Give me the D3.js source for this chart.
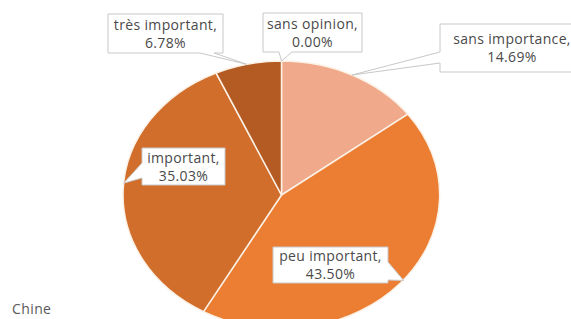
<!DOCTYPE html>
<html><head><meta charset="utf-8">
<script src="https://cdn.jsdelivr.net/npm/d3@7"></script>
<style>html,body{margin:0;padding:0;background:#fff;}svg{display:block;}</style>
</head><body>
<svg id="c" width="571" height="319"></svg>
<script>
const categories = ["sans opinion", "sans importance", "peu important", "important", "très important"];
const values = [0.00, 14.69, 43.50, 35.03, 6.78];
const labels = ["0.00%", "14.69%", "43.50%", "35.03%", "6.78%"];
const colors = ["#F0A98A", "#F0A98A", "#EC7E33", "#D26E2B", "#B35B23"];
const title = "Chine";

const svg = d3.select("#c");
const cx = 281.5, cy = 195, rx = 158.5, ry = 134;

const pie = d3.pie().sort(null).value(d => d.v);
const data = pie(categories.map((c, i) => ({c, v: values[i], i})));
const arc = d3.arc().innerRadius(0).outerRadius(1);

const g = svg.append("g").attr("transform", `translate(${cx},${cy}) scale(${rx},${ry})`);
g.selectAll("path").data(data).join("path")
  .attr("d", arc)
  .attr("fill", d => colors[d.data.i])
  .attr("stroke", "#FBF1E6")
  .attr("stroke-width", 1.5)
  .attr("vector-effect", "non-scaling-stroke");

function edge(d, frac) {
  const a = d.startAngle + (d.endAngle - d.startAngle) * frac;
  return [cx + rx * Math.sin(a), cy - ry * Math.cos(a)];
}

const callouts = [
  {i: 0, x: 263, y: 13, w: 99, h: 39, side: "bottom", a: 279, b: 292, frac: 0.5},
  {i: 1, x: 440, y: 24, w: 144, h: 48, side: "left", a: 52, b: 63, frac: 0.5},
  {i: 2, x: 273, y: 247, w: 115, h: 36, side: "right", a: 262, b: 280, frac: 0.49},
  {i: 3, x: 142, y: 148, w: 83, h: 37, side: "left", a: 163, b: 178, frac: 0.52},
  {i: 4, x: 108, y: 14, w: 115, h: 39, side: "bottom", a: 200, b: 214, frac: 0.48}
];

function calloutPath(o, tip) {
  const {x, y, w, h, side, a, b} = o;
  const p = d3.path();
  p.moveTo(x, y);
  if (side === "top") { p.lineTo(a, y); p.lineTo(tip[0], tip[1]); p.lineTo(b, y); }
  p.lineTo(x + w, y);
  if (side === "right") { p.lineTo(x + w, a); p.lineTo(tip[0], tip[1]); p.lineTo(x + w, b); }
  p.lineTo(x + w, y + h);
  if (side === "bottom") { p.lineTo(b, y + h); p.lineTo(tip[0], tip[1]); p.lineTo(a, y + h); }
  p.lineTo(x, y + h);
  if (side === "left") { p.lineTo(x, b); p.lineTo(tip[0], tip[1]); p.lineTo(x, a); }
  p.closePath();
  return p.toString();
}

const cg = svg.append("g");
callouts.forEach(o => {
  const d = data[o.i];
  const tip = edge(d, o.frac);
  cg.append("path").attr("d", calloutPath(o, tip))
    .attr("fill", "#fff").attr("stroke", "#C8C8C8").attr("stroke-width", 1);
  const tx = o.x + o.w / 2, ty = o.y + o.h / 2;
  cg.append("text").attr("text-anchor", "middle").attr("x", tx).attr("y", ty - 4)
    .attr("font-family", "'Open Sans', sans-serif").attr("font-size", 14)
    .attr("letter-spacing", 0.35).attr("fill", "#4a4a4a")
    .text(categories[o.i] + ",");
  cg.append("text").attr("text-anchor", "middle").attr("x", tx).attr("y", ty + 14)
    .attr("font-family", "'Open Sans', sans-serif").attr("font-size", 14)
    .attr("letter-spacing", 0.35).attr("fill", "#4a4a4a")
    .text(labels[o.i]);
});

svg.append("text").attr("x", 12).attr("y", 314)
  .attr("font-family", "'Open Sans', sans-serif").attr("font-size", 14)
  .attr("letter-spacing", 0.4).attr("fill", "#595959")
  .text(title);
</script>
</body></html>
